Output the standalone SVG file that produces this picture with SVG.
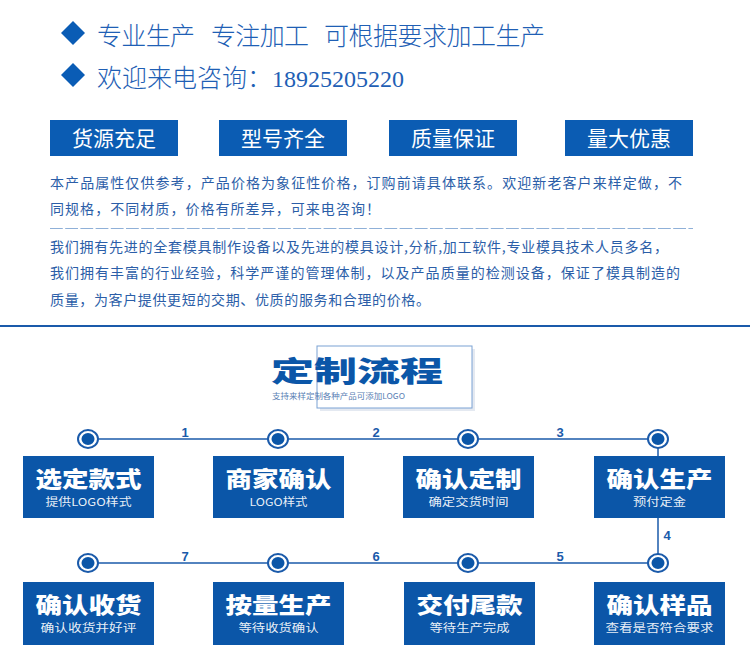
<svg xmlns="http://www.w3.org/2000/svg" width="750" height="663" viewBox="0 0 750 663">
<style>
.cjk{font-family:"Noto Sans CJK SC","Noto Sans",sans-serif}
.head{font-size:25px;font-weight:300;fill:#1f5fb5}
.tab{fill:#0b5cb3}
.tabt{font-size:21px;fill:#ffffff;text-anchor:middle}
.para{font-size:14px;fill:#2b5ea8}
.box{fill:#0b56a8}
.bt{font-size:22px;font-weight:900;fill:#ffffff;text-anchor:middle}
.bs{font-size:11px;fill:#ffffff;text-anchor:middle;fill-opacity:0.92}
.ring{fill:#ffffff;stroke:#1a5aaa;stroke-width:2}
.dot{fill:#0b56a8}
.num{font-family:"Liberation Sans",Arial,sans-serif;font-size:13px;font-weight:bold;fill:#1a5aaa;text-anchor:middle}
.conn{stroke:#1a5aaa;stroke-width:1.5;fill:none}
</style>
<rect width="750" height="663" fill="#ffffff"/>

<g id="header">
  <polygon points="73,21 85,33 73,45 61,33" fill="#0a5cb5"/>
  <text class="cjk head" x="97" y="45" textLength="98" lengthAdjust="spacing">专业生产</text>
  <text class="cjk head" x="211" y="45" textLength="98" lengthAdjust="spacing">专注加工</text>
  <text class="cjk head" x="324" y="45" textLength="221" lengthAdjust="spacing">可根据要求加工生产</text>
  <polygon points="73,63 85,75 73,87 61,75" fill="#0a5cb5"/>
  <text class="cjk head" x="97" y="87">欢迎来电咨询：<tspan font-family="Liberation Serif,serif" font-size="24" font-weight="normal">18925205220</tspan></text>
</g>

<g id="tabs">
  <g id="tab1"><rect class="tab" x="50" y="120" width="128" height="36"/><text class="cjk tabt" x="114" y="145.5">货源充足</text></g>
  <g id="tab2"><rect class="tab" x="219" y="120" width="128" height="36"/><text class="cjk tabt" x="283" y="145.5">型号齐全</text></g>
  <g id="tab3"><rect class="tab" x="389" y="120" width="128" height="36"/><text class="cjk tabt" x="453" y="145.5">质量保证</text></g>
  <g id="tab4"><rect class="tab" x="565" y="120" width="128" height="36"/><text class="cjk tabt" x="629" y="145.5">量大优惠</text></g>
</g>

<g id="description">
  <text class="cjk para" x="50" y="188" textLength="632" lengthAdjust="spacing">本产品属性仅供参考，产品价格为象征性价格，订购前请具体联系。欢迎新老客户来样定做，不</text>
  <text class="cjk para" x="50" y="214" textLength="330" lengthAdjust="spacing">同规格，不同材质，价格有所差异，可来电咨询！</text>
  <line x1="50" y1="228.5" x2="693" y2="228.5" stroke="#8fb0d8" stroke-width="1" stroke-dasharray="12.8 2.4"/>
  <text class="cjk para" x="50" y="252" textLength="618" lengthAdjust="spacing">我们拥有先进的全套模具制作设备以及先进的模具设计,分析,加工软件,专业模具技术人员多名，</text>
  <text class="cjk para" x="50" y="278" textLength="630" lengthAdjust="spacing">我们拥有丰富的行业经验，科学严谨的管理体制，以及产品质量的检测设备，保证了模具制造的</text>
  <text class="cjk para" x="50" y="305" textLength="380" lengthAdjust="spacing">质量，为客户提供更短的交期、优质的服务和合理的价格。</text>
  <rect x="0" y="325" width="750" height="2" fill="#1a5aaa"/>
</g>

<g id="title">
  <rect x="320" y="349" width="155" height="62" fill="#e4e9f1"/>
  <rect x="317" y="346" width="155" height="62" fill="#ffffff" stroke="#7aa2d4" stroke-width="1"/>
  <text class="cjk" x="271" y="381.5" font-size="28" font-weight="900" fill="#0b56a8" textLength="172" lengthAdjust="spacingAndGlyphs">定制流程</text>
  <text class="cjk" x="272" y="399.3" font-size="8" fill="#5a80b4" textLength="133" lengthAdjust="spacingAndGlyphs">支持来样定制各种产品可添加LOGO</text>
</g>

<g id="connectors">
  <line class="conn" x1="88" y1="439" x2="658" y2="439"/>
  <line class="conn" x1="658" y1="439" x2="658" y2="563"/>
  <line class="conn" x1="88" y1="563" x2="658" y2="563"/>
  <text class="num" x="185" y="437">1</text>
  <text class="num" x="376" y="437">2</text>
  <text class="num" x="560" y="437">3</text>
  <text class="num" x="667" y="540">4</text>
  <text class="num" x="560" y="561">5</text>
  <text class="num" x="376" y="561">6</text>
  <text class="num" x="185" y="561">7</text>
</g>

<g id="markers">
  <g id="m1"><ellipse class="ring" cx="88" cy="439" rx="10" ry="9"/><ellipse class="dot" cx="88" cy="439" rx="6.5" ry="6"/></g>
  <g id="m2"><ellipse class="ring" cx="278" cy="439" rx="10" ry="9"/><ellipse class="dot" cx="278" cy="439" rx="6.5" ry="6"/></g>
  <g id="m3"><ellipse class="ring" cx="468" cy="439" rx="10" ry="9"/><ellipse class="dot" cx="468" cy="439" rx="6.5" ry="6"/></g>
  <g id="m4"><ellipse class="ring" cx="658" cy="439" rx="10" ry="9"/><ellipse class="dot" cx="658" cy="439" rx="6.5" ry="6"/></g>
  <g id="m5"><ellipse class="ring" cx="658" cy="563" rx="10" ry="9"/><ellipse class="dot" cx="658" cy="563" rx="6.5" ry="6"/></g>
  <g id="m6"><ellipse class="ring" cx="468" cy="563" rx="10" ry="9"/><ellipse class="dot" cx="468" cy="563" rx="6.5" ry="6"/></g>
  <g id="m7"><ellipse class="ring" cx="278" cy="563" rx="10" ry="9"/><ellipse class="dot" cx="278" cy="563" rx="6.5" ry="6"/></g>
  <g id="m8"><ellipse class="ring" cx="88" cy="563" rx="10" ry="9"/><ellipse class="dot" cx="88" cy="563" rx="6.5" ry="6"/></g>
</g>

<g id="step1"><rect class="box" x="23" y="456" width="131" height="62"/><text class="cjk bt" x="88.5" y="487" textLength="106" lengthAdjust="spacingAndGlyphs">选定款式</text><text class="cjk bs" x="88.5" y="506" textLength="86" lengthAdjust="spacingAndGlyphs">提供LOGO样式</text></g>
<g id="step2"><rect class="box" x="213" y="456" width="131" height="62"/><text class="cjk bt" x="278.5" y="487" textLength="106" lengthAdjust="spacingAndGlyphs">商家确认</text><text class="cjk bs" x="278.5" y="506" textLength="58" lengthAdjust="spacingAndGlyphs">LOGO样式</text></g>
<g id="step3"><rect class="box" x="403" y="456" width="131" height="62"/><text class="cjk bt" x="468.5" y="487" textLength="106" lengthAdjust="spacingAndGlyphs">确认定制</text><text class="cjk bs" x="468.5" y="506" textLength="80" lengthAdjust="spacingAndGlyphs">确定交货时间</text></g>
<g id="step4"><rect class="box" x="594" y="456" width="131" height="62"/><text class="cjk bt" x="659.5" y="487" textLength="106" lengthAdjust="spacingAndGlyphs">确认生产</text><text class="cjk bs" x="659.5" y="506" textLength="53" lengthAdjust="spacingAndGlyphs">预付定金</text></g>
<g id="step5"><rect class="box" x="594" y="582" width="131" height="63"/><text class="cjk bt" x="659.5" y="613" textLength="106" lengthAdjust="spacingAndGlyphs">确认样品</text><text class="cjk bs" x="659.5" y="632" textLength="108" lengthAdjust="spacingAndGlyphs">查看是否符合要求</text></g>
<g id="step6"><rect class="box" x="404" y="582" width="131" height="63"/><text class="cjk bt" x="469.5" y="613" textLength="106" lengthAdjust="spacingAndGlyphs">交付尾款</text><text class="cjk bs" x="469.5" y="632" textLength="80" lengthAdjust="spacingAndGlyphs">等待生产完成</text></g>
<g id="step7"><rect class="box" x="213" y="582" width="131" height="63"/><text class="cjk bt" x="278.5" y="613" textLength="106" lengthAdjust="spacingAndGlyphs">按量生产</text><text class="cjk bs" x="278.5" y="632" textLength="80" lengthAdjust="spacingAndGlyphs">等待收货确认</text></g>
<g id="step8"><rect class="box" x="23" y="582" width="131" height="63"/><text class="cjk bt" x="88.5" y="613" textLength="106" lengthAdjust="spacingAndGlyphs">确认收货</text><text class="cjk bs" x="88.5" y="632" textLength="96" lengthAdjust="spacingAndGlyphs">确认收货并好评</text></g>
</svg>
